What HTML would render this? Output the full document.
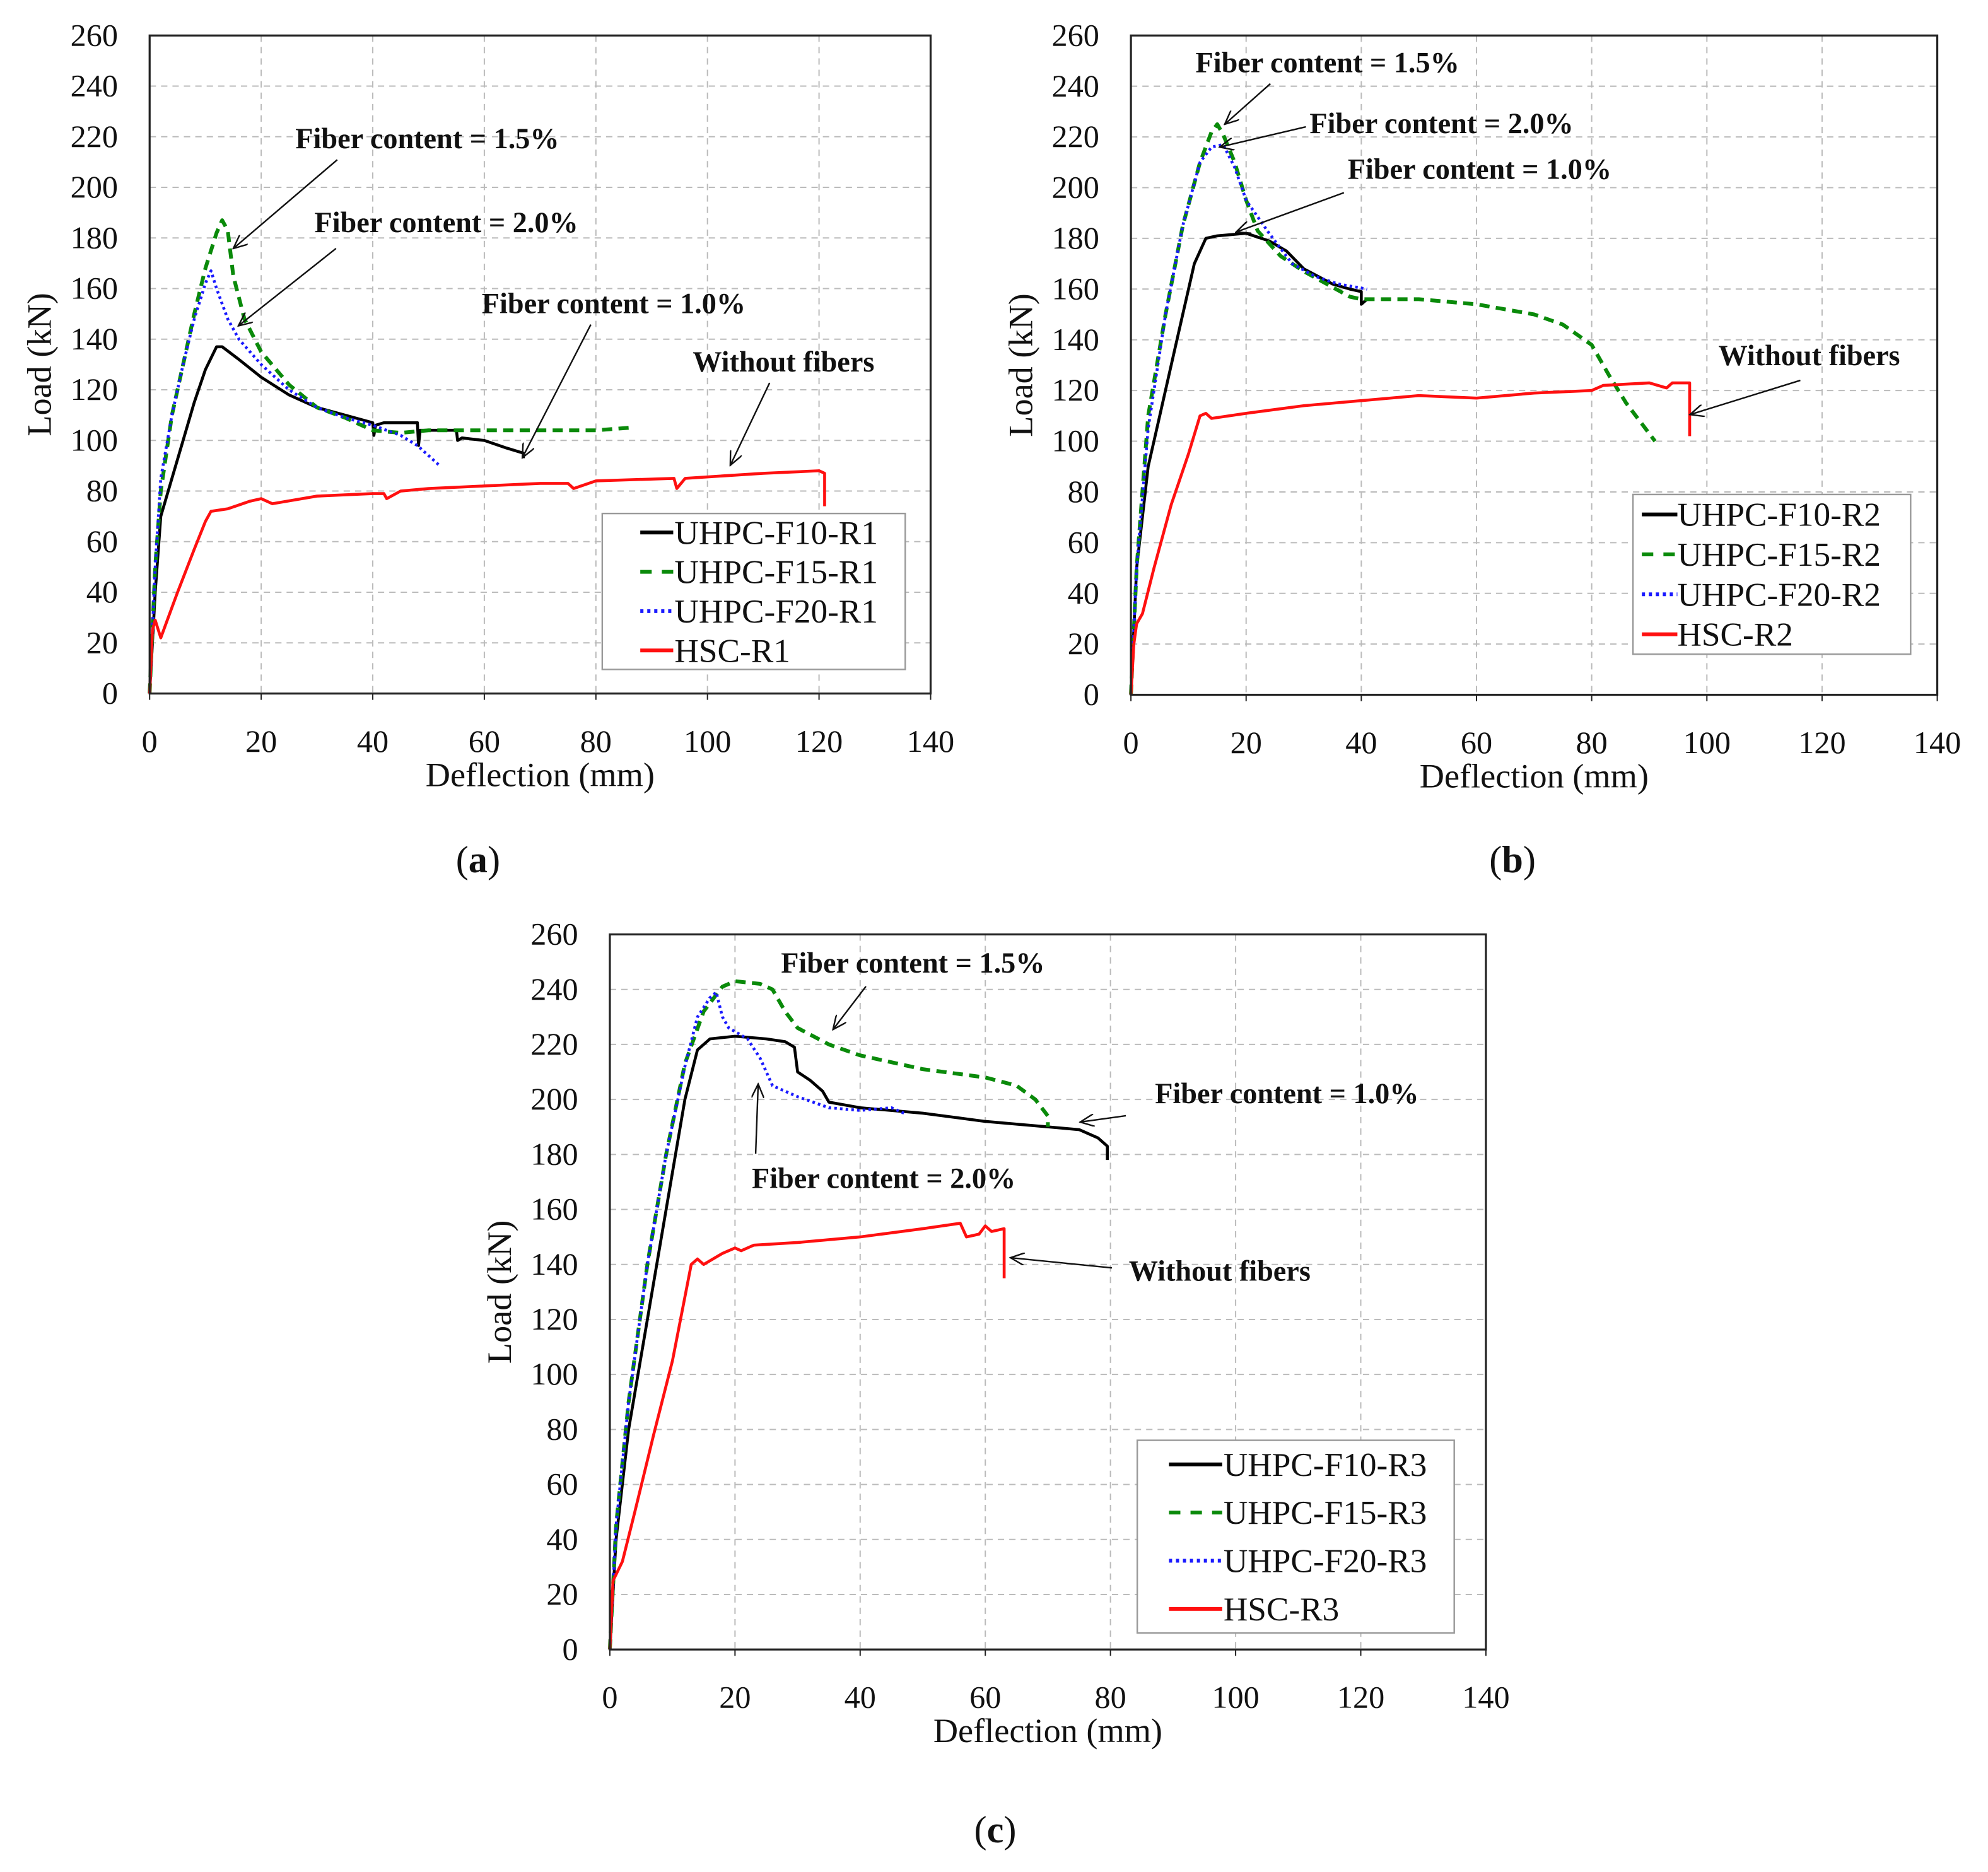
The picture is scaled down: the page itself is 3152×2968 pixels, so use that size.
<!DOCTYPE html>
<html><head><meta charset="utf-8"><style>
html,body{margin:0;padding:0;background:#fff;}
svg{display:block;}
text{font-family:"Liberation Serif",serif;fill:#111;}
.tk{font-size:25px;}
.ttl{font-size:27px;}
.ann{font-size:23px;font-weight:bold;}
.lg{font-size:26.5px;}
.pl{font-size:30px;}
</style></head><body>
<svg id="fig" width="3152" height="2968" viewBox="0 0 1568 1476.5" xmlns="http://www.w3.org/2000/svg"></svg>
<script>
// ---------- data ----------
const xTicks=[0,20,40,60,80,100,120,140];
const yTicks=[0,20,40,60,80,100,120,140,160,180,200,220,240,260];
const seriesNames=["UHPC-F10","UHPC-F15","UHPC-F20","HSC"];

const aF10=[[0,0],[1,40],[2,70],[4,85],[6,100],[8,115],[10,128],[12,137],[13,137],[16,132],[20,125],[25,118],[30,113],[35,110],[40,107],[40.2,102],[40.5,106],[42,107],[48,107],[48.2,98],[48.5,104],[55,104],[55.2,100],[56,101],[60,100],[64,97],[67,95],[67,93]];
const aF15=[[0,0],[1,50],[2,80],[4,110],[6,130],[8,150],[10,168],[12,182],[13,187],[14,183],[15,165],[17,148],[20,135],[25,122],[30,113],[35,109],[38,106],[40,104],[45,103],[50,104],[60,104],[70,104],[80,104],[86,105]];
const aF20=[[0,0],[1,50],[2,85],[4,110],[6,130],[8,148],[10,162],[11,167],[12,160],[14,148],[16,140],[20,130],[25,120],[30,113],[35,109],[40,106],[45,102],[48,98],[52,90]];
const aHSC=[[0,0],[0.5,25],[1,29],[2,22],[3,28],[5,40],[8,57],[10,68],[11,72],[14,73],[18,76],[20,77],[22,75],[30,78],[40,79],[42,79],[42.5,77],[45,80],[50,81],[60,82],[70,83],[75,83],[76,81],[80,84],[94,85],[94.5,81],[96,85],[110,87],[120,88],[121,87],[121,74]];

const bF10=[[0,0],[1,50],[3,90],[5,110],[8,140],[11,170],[13,180],[15,181],[20,182],[24,179],[27,175],[30,168],[35,162],[38,160],[40,159],[40,154],[41,156]];
const bF15=[[0,0],[1,50],[3,110],[6,150],[9,185],[12,210],[14,222],[15,225],[16,221],[18,210],[20,195],[22,183],[26,173],[30,167],[34,162],[38,157],[40,156],[50,156],[60,154],[70,150],[75,146],[80,138],[83,126],[86,115],[91,100]];
const bF20=[[0,0],[1,50],[3,105],[6,150],[9,185],[12,210],[14,216],[16,217],[18,208],[20,195],[24,182],[28,170],[32,165],[36,162],[41,160]];
const bHSC=[[0,0],[0.5,20],[1,28],[2,32],[4,50],[7,75],[10,95],[12,110],[13,111],[14,109],[20,111],[30,114],[40,116],[50,118],[60,117],[70,119],[80,120],[82,122],[90,123],[93,121],[94,123],[97,123],[97,102]];

const cF10=[[0,0],[1,40],[3,80],[6,120],[9,160],[12,200],[14,218],[16,222],[20,223],[25,222],[28,221],[29.5,219],[30,210],[32,207],[34,203],[35,199],[40,197],[50,195],[60,192],[70,190],[75,189],[78,186],[79.5,183],[79.5,178]];
const cF15=[[0,0],[1,45],[3,90],[6,140],[9,180],[12,213],[15,232],[18,241],[20,243],[24,242],[26,240],[28,232],[30,226],[35,220],[40,216],[50,211],[60,208],[65,205],[68,200],[70,194],[70,190]];
const cF20=[[0,0],[1,45],[3,90],[6,140],[9,180],[12,212],[14,230],[16,237],[17,239],[18,230],[19,226],[22,222],[24,215],[26,205],[30,201],[35,197],[40,196],[45,197],[47,195]];
const cHSC=[[0,0],[0.5,25],[2,32],[4,50],[7,78],[10,105],[13,140],[14,142],[15,140],[18,144],[20,146],[21,145],[23,147],[30,148],[40,150],[50,153],[56,155],[57,150],[59,151],[60,154],[61,152],[63,153],[63,135]];

const styles=[{c:"#000",d:null},{c:"#0a8a0a",d:"8 5"},{c:"#1a1aff",d:"2 2.5"},{c:"#ff1010",d:null}];
const NS="http://www.w3.org/2000/svg";
const svg=document.getElementById("fig");
function mk(tag,attrs,parent){const e=document.createElementNS(NS,tag);for(const k in attrs)e.setAttribute(k,attrs[k]);(parent||svg).appendChild(e);return e;}

const panels=[
 {id:"a",L:118,R:734,T:28,B:547,data:[aF10,aF15,aF20,aHSC],suf:"R1",leg:{x:475,y:405,w:239,h:123,dy:31,l1:505,l2:531,tx:532},lbl:[377,678],
  anns:[["Fiber content = 1.5%",337,117,266,126,184,196],["Fiber content = 2.0%",352,183,265,196,188,257],["Fiber content = 1.0%",484,247,466,256,412,361],["Without fibers",618,293,607,302,576,367]]},
 {id:"b",L:892,R:1528,T:28,B:548,data:[bF10,bF15,bF20,bHSC],suf:"R2",leg:{x:1288,y:390,w:219,h:126,dy:31.5,l1:1295,l2:1323,tx:1323},lbl:[1193,678],
  anns:[["Fiber content = 1.5%",1047,57,1002,66,966,98],["Fiber content = 2.0%",1137,105,1030,100,962,116],["Fiber content = 1.0%",1167,141,1060,152,975,183],["Without fibers",1427,288,1420,300,1333,327]]},
 {id:"c",L:481,R:1172,T:737,B:1301,data:[cF10,cF15,cF20,cHSC],suf:"R3",leg:{x:897,y:1136,w:250,h:152,dy:38,l1:922,l2:964,tx:965},lbl:[785,1443],
  anns:[["Fiber content = 1.5%",720,767,683,778,657,812],["Fiber content = 1.0%",1015,870,888,880,852,885],["Fiber content = 2.0%",697,937,596,910,598,855],["Without fibers",962,1010,877,1000,797,992]]}
];

mk("defs",{}).innerHTML='<marker id="arr" markerWidth="12" markerHeight="10" refX="11" refY="5" orient="auto" markerUnits="userSpaceOnUse"><path d="M0,0 L11,5 L0,10" fill="none" stroke="#111" stroke-width="1.2"/></marker>';

panels.forEach(p=>{
  const g=mk("g",{});
  
  
  const sx=v=>p.L+(v-0)/(140-0)*(p.R-p.L);
  const sy=v=>p.B-(v-0)/(260-0)*(p.B-p.T);
  xTicks.forEach(t=>{if(t>0&&t<140){const l=mk("line",{x1:sx(t),x2:sx(t),y1:p.T,y2:p.B,stroke:"#bbb","stroke-width":1,"stroke-dasharray":"5 4"},g);}});
  yTicks.forEach(t=>{if(t>0&&t<260){const l=mk("line",{x1:p.L,x2:p.R,y1:sy(t),y2:sy(t),stroke:"#bbb","stroke-width":1,"stroke-dasharray":"5 4"},g);}});
  xTicks.forEach(t=>{const e=mk("text",{x:sx(t),y:p.B+46,"text-anchor":"middle",class:"tk"},g);e.textContent=t;
    mk("line",{x1:sx(t),x2:sx(t),y1:p.B,y2:p.B+5,stroke:"#222","stroke-width":1},g);});
  yTicks.forEach(t=>{const e=mk("text",{x:p.L-25,y:sy(t)+8,"text-anchor":"end",class:"tk"},g);e.textContent=t;});
  p.data.forEach((d,i)=>{const s=styles[i];
    const pts=d.map(q=>sx(q[0]).toFixed(1)+","+sy(q[1]).toFixed(1)).join(" ");
    const a={points:pts,fill:"none",stroke:s.c,"stroke-width":i==1?3:2.3,"stroke-linejoin":"round"};if(s.d)a["stroke-dasharray"]=s.d;
    const pl=mk("polyline",a,g);
    
    
  });
  const fr=mk("rect",{x:p.L,y:p.T,width:p.R-p.L,height:p.B-p.T,fill:"none",stroke:"#222","stroke-width":1.6},g);
  
  const xt=mk("text",{x:(p.L+p.R)/2,y:p.B+73,"text-anchor":"middle",class:"ttl"},g);xt.textContent="Deflection (mm)";
  
  const yc=(p.T+p.B)/2, yx=p.L-78;
  const yt=mk("text",{x:yx,y:yc,"text-anchor":"middle",class:"ttl",transform:`rotate(-90 ${yx} ${yc})`},g);yt.textContent="Load (kN)";
  
  p.anns.forEach(a=>{
    const ln=mk("line",{x1:a[3],y1:a[4],x2:a[5],y2:a[6],stroke:"#111","stroke-width":1.2,"marker-end":"url(#arr)"},g);
    
    const t=mk("text",{x:a[1],y:a[2],"text-anchor":"middle",class:"ann"},g);t.textContent=a[0];
    
  });
  const L=p.leg;
  const lg=mk("g",{},g);
  mk("rect",{x:L.x,y:L.y,width:L.w,height:L.h,fill:"#fff",stroke:"#999","stroke-width":1.2},lg);
  seriesNames.forEach((n,i)=>{const s=styles[i];const yy=L.y+L.dy*0.5+L.dy*i+(L.h-4*L.dy)/2;
    const a={x1:L.l1,x2:L.l2,y1:yy,y2:yy,stroke:s.c,"stroke-width":3};if(s.d)a["stroke-dasharray"]=i==1?"9 8":"2.5 3";
    const ll=mk("line",a,lg);
    const t=mk("text",{x:L.tx,y:yy+9,class:"lg"},lg);t.textContent=n+"-"+p.suf;
    
  });
  const pl=mk("text",{x:p.lbl[0],y:p.lbl[1]+10,"text-anchor":"middle",class:"pl"},g);
  pl.innerHTML='(<tspan font-weight="bold">'+p.id+'</tspan>)';
  
});
</script>
</body></html>
